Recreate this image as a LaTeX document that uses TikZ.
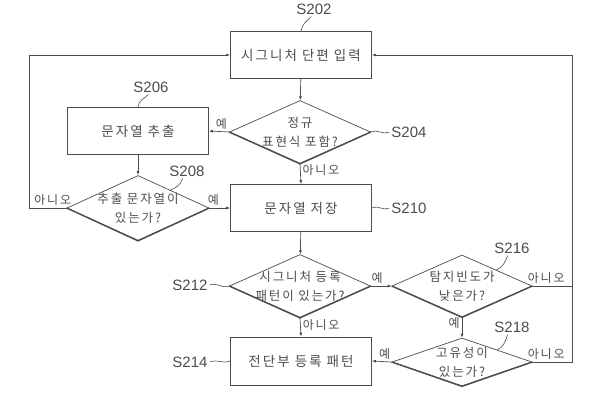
\documentclass[tikz,border=0pt]{standalone}
\usepackage{fontspec}
\setmainfont{Liberation Sans}
\newfontfamily\krfont[LetterSpace=15]{Noto Sans CJK KR}
\usetikzlibrary{shapes.geometric,arrows.meta}

\definecolor{inkgray}{gray}{0.3}
\tikzset{
  stepbox/.style={draw=inkgray, line width=0.8pt, rectangle, minimum width=141pt, minimum height=47pt,
    text=inkgray, font=\krfont\fontsize{13.5}{15}\selectfont},
  decision/.style={draw=inkgray, line width=0.7pt, diamond, aspect=2.2, inner sep=-8pt, align=center,
    minimum width=141pt, minimum height=63pt, text=inkgray,
    font=\krfont\fontsize{12.5}{19}\selectfont},
  tag/.style={inner sep=2pt, text=inkgray, font=\fontsize{15}{17}\selectfont},
  yesno/.style={inner sep=2pt, text=inkgray, font=\krfont\fontsize{12}{14}\selectfont},
  flow/.style={draw=inkgray, line width=0.7pt, -{Latex[length=4pt,width=3pt]}},
  leader/.style={draw=inkgray, line width=0.6pt},
  shadowedge/.style={draw=inkgray, line width=1.4pt}
}

\begin{document}
\begin{tikzpicture}[x=1pt, y=-1pt]
\useasboundingbox (0,0) rectangle (592,401);

% steps
\node[stepbox] (s202) at (301,55) {시그니처 단편 입력};
\node[decision] (s204) at (300,132) {정규\\표현식 포함?};
\node[stepbox] (s206) at (138,131) {문자열 추출};
\node[decision, minimum width=142pt, minimum height=65pt] (s208) at (138,208) {추출 문자열이\\있는가?};
\node[stepbox] (s210) at (301,208) {문자열 저장};
\node[decision] (s212) at (300,286) {시그니처 등록\\패턴이 있는가?};
\node[stepbox, minimum height=48pt] (s214) at (301,361) {전단부 등록 패턴};
\node[decision, minimum width=140pt, minimum height=62pt] (s216) at (462,286) {탐지빈도가\\낮은가?};
\node[decision, minimum width=140pt, minimum height=48pt] (s218) at (462,362) {고유성이\\있는가?};

\foreach \d in {s204,s208,s212,s216,s218}
  \draw[shadowedge] (\d.west) -- (\d.south) -- (\d.east);

% step numbers
\node[tag] (l202) at (314,9) {S202};
\node[tag] (l204) at (409,132) {S204};
\node[tag] (l206) at (151,87) {S206};
\node[tag] (l208) at (187,171) {S208};
\node[tag] (l210) at (409,208) {S210};
\node[tag] (l212) at (190,285) {S212};
\node[tag] (l214) at (190,362) {S214};
\node[tag] (l216) at (512,248) {S216};
\node[tag] (l218) at (512,327) {S218};

\draw[leader] (s202.north) .. controls +(1,-7) and +(-5,5) .. (l202.250);
\draw[leader] (s204.east) .. controls +(8,-3) and +(-8,3) .. (l204.west);
\draw[leader] (s206.north) .. controls +(1,-7) and +(-5,5) .. (l206.250);
\draw[leader] (s208.29) .. controls +(6,-2) and +(-2,6) .. (l208.240);
\draw[leader] (s210.east) .. controls +(8,-3) and +(-8,3) .. (l210.west);
\draw[leader] (s212.west) .. controls +(-8,3) and +(8,-3) .. (l212.east);
\draw[leader] (s214.west) .. controls +(-8,3) and +(8,-3) .. (l214.east);
\draw[leader] (s216.25) .. controls +(6,-2) and +(-2,6) .. (l216.240);
\draw[leader] (s218.19) .. controls +(6,-2) and +(-2,6) .. (l218.240);

% loop corners
\coordinate (lft) at (29,208);
\coordinate (rjoin) at (572,286);
\coordinate (rgt) at (572,362);

% flow
\draw[flow] (s202) -- (s204);
\draw[flow] (s204.west) -- node[yesno, above, pos=0.38] (y204) {예} (s206.east);
\draw[flow] (s204.south) -- node[yesno, right, pos=0.3] (n204) {아니오} (s210.north);
\draw[flow] (s206) -- (s208);
\draw[flow] (s208.east) -- node[yesno, above, pos=0.2] (y208) {예} (s210.west);
\draw[flow] (s208.west) -- node[yesno, above, pos=0.37] (n208) {아니오} (lft) |- (s202.west);
\draw[flow] (s210) -- (s212);
\draw[flow] (s212.south) -- node[yesno, right, pos=0.4] (n212) {아니오} (s214.north);
\draw[flow] (s212.east) -- node[yesno, above, pos=0.3] (y212) {예} (s216.west);
\draw[flow] (s216.south) -- node[yesno, left, pos=0.3] (y216) {예} (s218.north);
\draw[flow] (s218.west) -- node[yesno, above, pos=0.35] (y218) {예} (s214.east);
\draw[flow, -] (s216.east) -- node[yesno, above, pos=0.35] (n216) {아니오} (rjoin);
\draw[flow] (s218.east) -- node[yesno, above, pos=0.35] (n218) {아니오} (rgt) |- (s202.east);
\end{tikzpicture}
\end{document}
